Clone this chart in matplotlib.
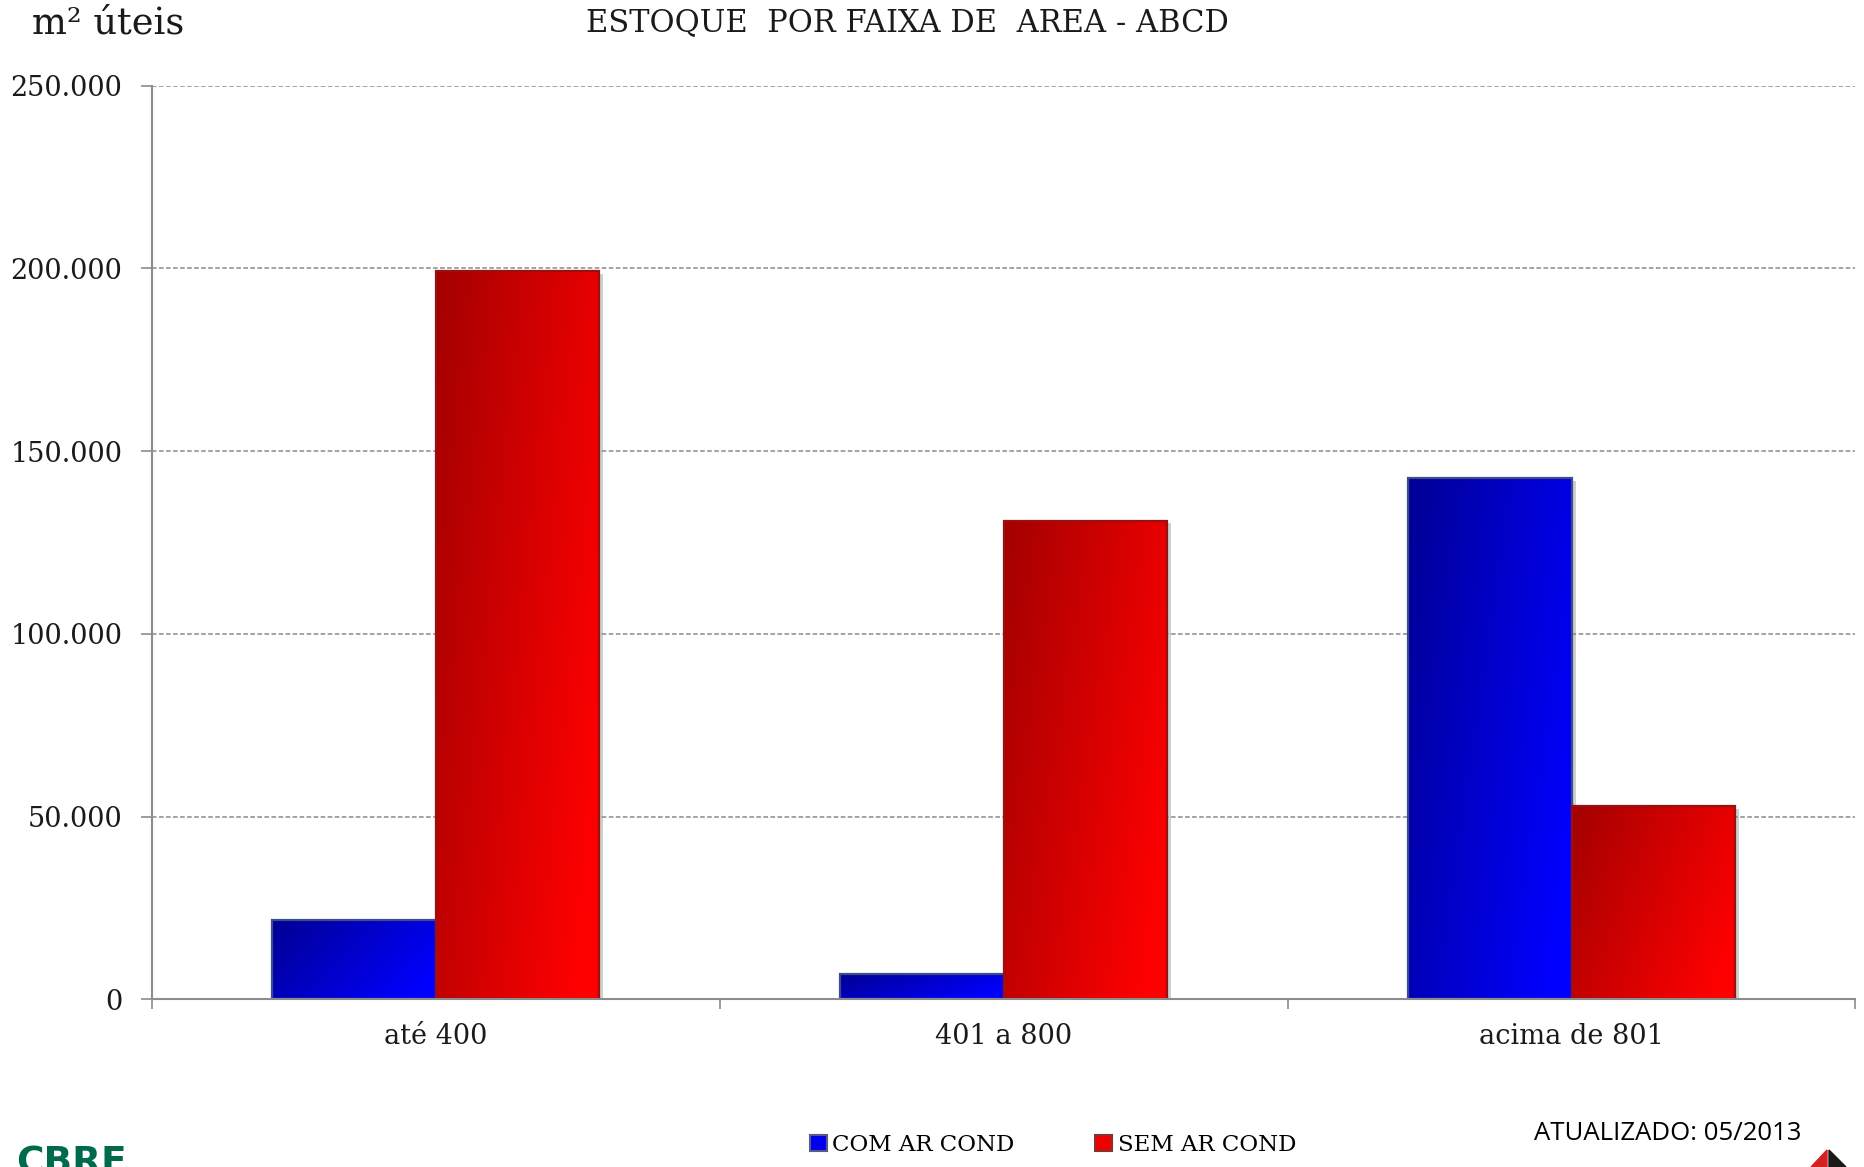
import numpy as np
import matplotlib.pyplot as plt
from matplotlib.patches import Patch, Polygon, Rectangle
from matplotlib.ticker import FuncFormatter
import matplotlib.patheffects as pe

# Estoque (m² úteis) por faixa de área
categories = ['até 400', '401 a 800', 'acima de 801']
com_ar = [21600, 6800, 142500]
sem_ar = [199200, 131000, 52800]
series_labels = ['COM AR COND', 'SEM AR COND']
y_ticks = [0, 50000, 100000, 150000, 200000, 250000]

serif = ['DejaVu Serif']


def gradient_fill(ax, bar, dark, light, edge):
    # diagonal gradient clipped to the bar shape, outline redrawn on top
    x, y = bar.get_x(), bar.get_y()
    w, h = bar.get_width(), bar.get_height()
    u = np.linspace(0, 1, 120)[None, :]
    v = np.linspace(0, 1, 200)[:, None]
    t = np.clip(0.75 * u + 0.35 * v, 0, 1)
    dark = np.array(dark)
    light = np.array(light)
    img = dark + (light - dark) * t[..., None]
    im = ax.imshow(img, extent=[x, x + w, y, y + h], origin='upper',
                   aspect='auto', zorder=bar.get_zorder() + 0.1,
                   interpolation='bilinear')
    im.set_clip_path(bar)
    ax.add_patch(Rectangle((x, y), w, h, fill=False, edgecolor=edge,
                           linewidth=1.6, zorder=bar.get_zorder() + 0.2))


fig = plt.figure(figsize=(18.65, 11.67), dpi=100)
ax = fig.add_axes([151.7 / 1865, 1 - 999.3 / 1167,
                   (1855.5 - 151.7) / 1865, (999.3 - 85.6) / 1167])

x = np.arange(len(categories))
width = 0.288

shadow = [pe.SimplePatchShadow(offset=(3, -2), shadow_rgbFace='#777777', alpha=0.35), pe.Normal()]
bars_com = ax.bar(x - width / 2, com_ar, width, color='#0000dd', linewidth=0,
                  zorder=3, path_effects=shadow)
bars_sem = ax.bar(x + width / 2, sem_ar, width, color='#dd0000', linewidth=0,
                  zorder=3, path_effects=shadow)

for b in bars_com:
    gradient_fill(ax, b, (0.0, 0.0, 0.58), (0.0, 0.0, 1.0), '#3e4c8c')
for b in bars_sem:
    gradient_fill(ax, b, (0.64, 0.0, 0.0), (1.0, 0.0, 0.0), '#9a1010')

ax.set_xlim(-0.5, len(categories) - 0.5)
ax.set_ylim(0, 250000)

# axes styling
for side in ['top', 'right']:
    ax.spines[side].set_visible(False)
for side in ['left', 'bottom']:
    ax.spines[side].set_color('#8c8c8c')
    ax.spines[side].set_linewidth(1.5)
    ax.spines[side].set_zorder(5)

ax.set_yticks(y_ticks)
ax.yaxis.set_major_formatter(FuncFormatter(lambda v, p: '0' if v == 0 else f'{int(v):,}'.replace(',', '.')))
ax.tick_params(axis='y', length=8, width=1.2, color='#8c8c8c', pad=13, labelsize=19.5,
               labelcolor='#1a1a1a')
for lab in ax.get_yticklabels():
    lab.set_family(serif)

ax.set_xticks(np.arange(-0.5, len(categories), 1.0))
ax.set_xticklabels([])
ax.tick_params(axis='x', which='major', length=7, width=1.2, color='#8c8c8c')
ax.set_xticks(x, minor=True)
ax.set_xticklabels(categories, minor=True, family=serif, fontsize=19.5, color='#1a1a1a')
ax.tick_params(axis='x', which='minor', length=0, pad=17)

for v in y_ticks[1:]:
    ax.axhline(v, color='#8a8a8a', linewidth=1.1, linestyle=(0, (3, 1.6)), zorder=1)

# titles
fig.text(32 / 1865, 1 - 24 / 1167, 'm² úteis', family=serif, fontsize=26.5,
         ha='left', va='center', color='#1a1a1a')
fig.text(907 / 1865, 1 - 23 / 1167, 'ESTOQUE  POR FAIXA DE  AREA - ABCD', family=serif,
         fontsize=22, ha='center', va='center', color='#1a1a1a')

# legend
handles = [Patch(facecolor='#0000ee', edgecolor='#5a5a8a', linewidth=1.5),
           Patch(facecolor='#ee0000', edgecolor='#8a3030', linewidth=1.5)]
fig.legend(handles, series_labels, loc='center', bbox_to_anchor=(1053 / 1865, 1 - 1145 / 1167),
           ncol=2, frameon=False, handlelength=0.75, handleheight=0.75, handletextpad=0.25,
           columnspacing=3.5, prop={'family': serif, 'size': 16.5}, borderaxespad=0)

fig.text(1534 / 1865, 1 - 1133 / 1167, 'ATUALIZADO: 05/2013', family='Open Sans',
         fontsize=18.5, ha='left', va='center', color='black')

# logos at the bottom edge
fig.text(16 / 1865, 1 - 1146 / 1167, 'CBRE', family='DejaVu Sans', fontweight='bold',
         fontsize=27, color='#006a4d', ha='left', va='top')
fig.add_artist(Polygon([(1811 / 1865, 0), (1827 / 1865, 1 - 1150 / 1167), (1827 / 1865, 0)],
                       closed=True, transform=fig.transFigure, color='#d42020'))
fig.add_artist(Polygon([(1829 / 1865, 1 - 1150 / 1167), (1846 / 1865, 0), (1829 / 1865, 0)],
                       closed=True, transform=fig.transFigure, color='#1a1a1a'))

fig.savefig('out.png', dpi=100)
